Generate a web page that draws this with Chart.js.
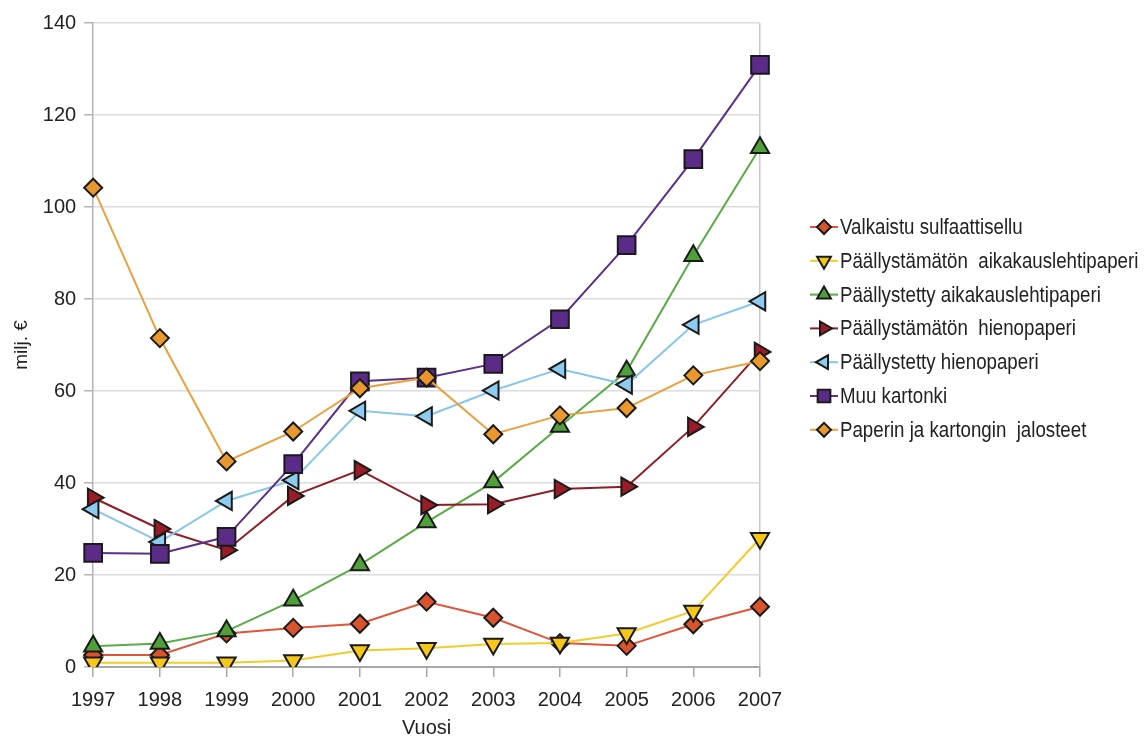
<!DOCTYPE html>
<html>
<head>
<meta charset="utf-8">
<script src="https://cdn.jsdelivr.net/npm/chart.js@4/dist/chart.umd.min.js"></script>
<style>
  html, body { margin: 0; padding: 0; background: #fff; }
  #wrap { width: 1147px; height: 738px; }
</style>
</head>
<body>
<div id="wrap"><canvas id="paperChart" width="1147" height="738"></canvas></div>
<script>
// data (milj. €)
const years = ['1997', '1998', '1999', '2000', '2001', '2002', '2003', '2004', '2005', '2006', '2007'];
const valkaistuSulfaattisellu = [2.6, 2.6, 7.3, 8.5, 9.4, 14.2, 10.7, 5.2, 4.6, 9.3, 13.1];
const paallystamatonAikakaus = [0.9, 0.9, 0.9, 1.4, 3.6, 4.1, 5.0, 5.2, 7.3, 12.2, 28.0];
const paallystettyAikakaus = [4.5, 5.1, 7.8, 14.5, 22.2, 31.5, 40.2, 52.3, 64.3, 89.4, 112.9];
const paallystamatonHieno = [36.8, 30.0, 25.4, 37.2, 42.8, 35.2, 35.4, 38.7, 39.2, 52.2, 68.5];
const paallystettyHieno = [34.3, 27.2, 36.1, 40.6, 55.7, 54.5, 60.1, 64.8, 61.4, 74.4, 79.5];
const muuKartonki = [24.8, 24.6, 28.3, 44.1, 62.1, 62.9, 65.9, 75.6, 91.7, 110.4, 130.9];
const jalosteet = [104.2, 71.5, 44.7, 51.2, 60.6, 62.9, 50.6, 54.7, 56.3, 63.4, 66.5];
const yTicks = [0, 20, 40, 60, 80, 100, 120, 140];

const FONT = "'Liberation Sans', Arial, sans-serif";
Chart.defaults.font.family = FONT;
Chart.defaults.color = '#222';

function series(label, data, line, fill, style, rotation, radius, legendRadius, i) {
  return {
    label: label,
    data: data,
    borderColor: line,
    backgroundColor: fill,
    borderWidth: 2,
    pointStyle: style,
    pointRotation: rotation,
    pointRadius: radius,
    pointHoverRadius: radius,
    pointBackgroundColor: fill,
    pointBorderColor: '#1a1a1a',
    pointBorderWidth: 2,
    tension: 0,
    legendRadius: legendRadius,
    order: 6 - i // later series drawn on top, like the original
  };
}

const datasets = [
  series('Valkaistu sulfaattisellu', valkaistuSulfaattisellu, '#e0553a', '#d9532c', 'rectRot', 0, 9, 7, 0),
  series('Päällystämätön  aikakauslehtipaperi', paallystamatonAikakaus, '#f2cc2a', '#f6c719', 'triangle', 180, 10.5, 8, 1),
  series('Päällystetty aikakauslehtipaperi', paallystettyAikakaus, '#5aaa45', '#4f9f3a', 'triangle', 0, 10.5, 8, 2),
  series('Päällystämätön  hienopaperi', paallystamatonHieno, '#8e1e26', '#9b1b27', 'triangle', 90, 10.5, 8, 3),
  series('Päällystetty hienopaperi', paallystettyHieno, '#88c5ea', '#8ecbf0', 'triangle', -90, 10.5, 8, 4),
  series('Muu kartonki', muuKartonki, '#5b3088', '#5a2b87', 'rect', 0, 12.5, 9, 5),
  series('Paperin ja kartongin  jalosteet', jalosteet, '#eba03e', '#e8982c', 'rectRot', 0, 9, 7, 6)
];

// legend on the right: short line through the marker, then the label (narrow type)
const sideLegend = {
  id: 'sideLegend',
  afterDraw(chart) {
    const ctx = chart.ctx;
    const x0 = 824, y0 = 227, step = 33.8;
    ctx.save();
    chart.data.datasets.forEach((ds, i) => {
      const y = y0 + i * step;
      ctx.strokeStyle = ds.borderColor;
      ctx.lineWidth = 2;
      ctx.beginPath();
      ctx.moveTo(x0 - 14, y);
      ctx.lineTo(x0 + 14, y);
      ctx.stroke();
      ctx.fillStyle = ds.pointBackgroundColor;
      ctx.strokeStyle = '#1a1a1a';
      ctx.lineWidth = 2;
      Chart.helpers.drawPoint(ctx, {
        pointStyle: ds.pointStyle,
        rotation: ds.pointRotation,
        radius: ds.legendRadius,
        borderWidth: 2
      }, x0, y);
      ctx.save();
      ctx.translate(x0 + 16, y + 1);
      ctx.scale(0.85, 1);
      ctx.fillStyle = '#222';
      ctx.font = '22px ' + FONT;
      ctx.textAlign = 'left';
      ctx.textBaseline = 'middle';
      ctx.fillText(ds.label, 0, 0);
      ctx.restore();
    });
    ctx.restore();
  }
};

new Chart(document.getElementById('paperChart').getContext('2d'), {
  type: 'line',
  data: { labels: years, datasets: datasets },
  plugins: [sideLegend],
  options: {
    responsive: false,
    animation: false,
    layout: { padding: { left: 8, right: 387, top: 23, bottom: 0 } },
    plugins: {
      legend: { display: false },
      tooltip: { enabled: false }
    },
    scales: {
      x: {
        offset: false,
        grid: {
          color: (c) => (c.index === years.length - 1 ? '#c8c8c8' : 'rgba(0,0,0,0)'),
          tickColor: '#a8a8a8',
          tickLength: 10,
          lineWidth: 1.5
        },
        border: { color: '#a8a8a8', width: 2 },
        ticks: { font: { size: 20, lineHeight: 1 }, padding: 13, maxRotation: 0 },
        title: { display: true, text: 'Vuosi', font: { size: 20, lineHeight: 0.5 }, padding: { top: 0, bottom: 5 } }
      },
      y: {
        min: 0,
        max: 140,
        afterBuildTicks: (axis) => { axis.ticks = yTicks.map(v => ({ value: v })); },
        grid: { color: '#dcdcdc', tickColor: '#b4b4b4', tickLength: 9, lineWidth: 1.5 },
        border: { color: '#b4b4b4', width: 1.5 },
        ticks: { font: { size: 20 }, padding: 8 },
        title: { display: true, text: 'milj. €', font: { size: 19 }, padding: { top: 2, bottom: 2 } }
      }
    }
  }
});
</script>
</body>
</html>
